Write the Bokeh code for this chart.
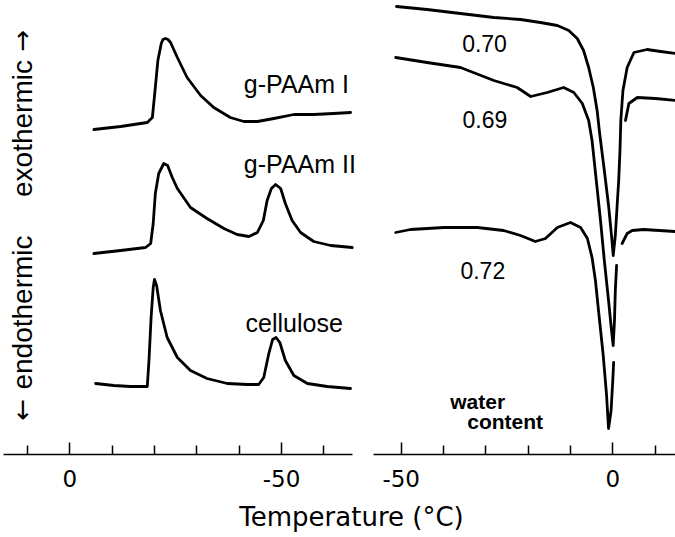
import math
from bokeh.plotting import figure
from bokeh.layouts import column, row
from bokeh.models import Range1d, FixedTicker
from bokeh.core.properties import value
from bokeh.embed import file_html
from bokeh.resources import INLINE

NaN = float("nan")

# ---------------- data (temperature in deg C, heat flow in arbitrary units, exothermic up)
# left panel: cooling curves
paam1_t = [-5.7, -12.0, -18.3, -19.5, -20.2, -20.8, -21.6, -22.0, -22.6, -23.2, -23.8, -25.4,
           -27.7, -30.9, -34.0, -37.9, -41.1, -44.3, -48.2, -52.9, -57.6, -62.3, -66.3]
paam1_q = [32.5, 32.8, 33.2, 33.7, 36.7, 39.4, 41.1, 41.5, 41.6, 41.5, 41.2, 39.7,
           37.7, 35.9, 34.7, 33.7, 33.3, 33.3, 33.6, 34.0, 34.0, 34.1, 34.2]

paam2_t = [-5.7, -12.0, -17.9, -19.1, -19.7, -20.2, -21.0, -22.2, -23.1, -24.2, -25.4, -28.5,
           -32.4, -36.4, -39.5, -42.3, -44.3, -45.7, -46.6, -47.6, -48.6, -49.8, -50.9, -52.5,
           -54.5, -57.6, -61.6, -66.7]
paam2_q = [20.1, 20.4, 20.7, 21.1, 23.1, 26.1, 28.1, 29.1, 28.9, 27.7, 26.6, 24.7,
           23.6, 22.6, 22.0, 21.8, 22.2, 23.4, 25.4, 26.6, 27.0, 26.6, 25.1, 23.4,
           22.2, 21.3, 20.9, 20.7]

cell_t = [-6.1, -10.4, -14.3, -18.3, -18.7, -19.2, -19.7, -20.0, -20.5, -21.4, -23.0, -25.4,
          -28.5, -32.4, -37.2, -41.9, -44.6, -45.8, -47.0, -47.9, -48.7, -49.6, -50.9, -52.9,
          -56.1, -60.8, -66.3]
cell_q = [7.1, 6.9, 6.8, 6.8, 9.4, 13.7, 16.7, 17.5, 16.9, 14.4, 11.7, 9.7,
          8.4, 7.6, 7.1, 7.0, 7.0, 7.7, 10.1, 11.5, 11.7, 11.2, 9.4, 7.9,
          7.1, 6.8, 6.6]

# right panel: heating curves by water content
w070_t = [-51.1, -43.9, -36.0, -28.1, -21.8, -17.1, -13.1, -10.4, -8.4, -6.9, -5.7, -4.6,
          -3.7, -3.1, -2.0, -1.0, -0.3, 0.1, 0.6, 1.1, 1.4, 1.7, 1.9, 2.4, 3.4, 5.0, 8.1,
          11.3, 14.8]
w070_q = [44.8, 44.5, 44.1, 43.7, 43.5, 43.2, 42.9, 42.4, 41.6, 40.4, 38.7, 36.7,
          34.4, 32.1, 28.4, 24.9, 21.9, 19.9, 21.9, 25.4, 27.4, 30.4, 33.4, 36.4, 38.7, 40.2, 40.5,
          40.3, 40.1]

w069_t = [-51.3, -43.9, -36.0, -28.1, -22.6, -19.4, -15.5, -11.6, -9.2, -7.2, -5.7, -4.9,
          -3.9, -2.9, -2.0, -1.0, -0.3, 0.1, 0.4, 0.6, 0.9, NaN, 3.0, 3.8, 5.8, 10.1, 14.8]
w069_q = [39.7, 39.2, 38.7, 37.4, 36.7, 35.8, 36.2, 36.7, 36.2, 35.1, 33.4, 31.4,
          27.4, 23.4, 19.4, 15.4, 12.4, 10.9, 13.4, 16.4, 18.9, NaN, 33.4, 35.1, 35.7, 35.6, 35.4]

w072_t = [-51.3, -47.8, -39.9, -32.0, -25.8, -21.8, -18.3, -15.9, -13.1, -10.0, -7.6, -6.0,
          -4.9, -4.1, -3.3, -2.3, -1.5, -1.0, -0.4, 0.0, 0.2, NaN, 2.2, 3.4, 4.6, 7.3, 14.8]
w072_q = [22.2, 22.5, 22.7, 22.7, 22.4, 21.9, 21.3, 21.6, 22.7, 23.2, 22.7, 21.6,
          19.7, 17.4, 14.1, 10.1, 6.1, 2.6, 4.4, 7.4, 9.2, NaN, 21.1, 22.1, 22.4, 22.5, 22.3]

# labels
left_names = ["g-PAAm I", "g-PAAm II", "cellulose"]
left_name_t = [-41.1, -41.1, -41.5]
left_name_q = [37.1, 29.1, 13.2]

right_names = ["0.70", "0.69", "0.72"]
right_name_t = [-35.6, -35.5, -36.0]
right_name_q = [41.1, 33.5, 18.4]

note_text = ["water", "content"]
note_t = [-38.4, -34.4]
note_q = [5.3, 3.3]

ylab_words = ["exothermic", "endothermic"]
ylab_words_t = [11.2, 11.2]
ylab_words_q = [32.6, 14.2]
ylab_arrows = ["\u2192", "\u2190"]
ylab_arrows_t = [11.2, 11.2]
ylab_arrows_q = [41.4, 4.5]

left_major = [0, -50]
left_major_labels = ["0", "-50"]
left_minor = [10, -10, -20, -30, -40, -60]
right_major = [-50, 0]
right_major_labels = ["-50", "0"]
right_minor = [-40, -30, -20, -10, 10]

xlabel = "Temperature (\u00b0C)"

# ---------------- layout
W_L, W_R = 372, 303
FRAME_H = 454
BORDER_B = 42
TITLE_H = 41
LW = 2.8


def panel(width, xr, bounds, major, labels, minor):
    p = figure(frame_width=width, frame_height=FRAME_H, x_range=xr, y_range=Range1d(0, 45.4),
               output_backend="svg", toolbar_location=None, y_axis_location=None,
               min_border_left=0, min_border_right=0, min_border_top=0,
               min_border_bottom=BORDER_B)
    p.outline_line_color = None
    p.grid.visible = False
    p.background_fill_color = "white"
    p.border_fill_color = "white"
    ax = p.xaxis[0]
    ax.ticker = FixedTicker(ticks=major, minor_ticks=minor)
    ax.major_label_overrides = {m: l for m, l in zip(major, labels)}
    ax.bounds = bounds
    ax.axis_line_color = "black"
    ax.axis_line_width = 1.5
    ax.major_tick_in = 12
    ax.major_tick_out = 0
    ax.major_tick_line_width = 1.5
    ax.major_tick_line_color = "black"
    ax.minor_tick_in = 9
    ax.minor_tick_out = 0
    ax.minor_tick_line_width = 1.5
    ax.minor_tick_line_color = "black"
    ax.major_label_text_font = "DejaVu Sans"
    ax.major_label_text_font_size = "23px"
    ax.major_label_text_color = "black"
    ax.major_label_standoff = 15
    return p


pL = panel(W_L, Range1d(16.36, -71.48), (-66.75, 15.65), left_major, left_major_labels, left_minor)
pR = panel(W_R, Range1d(-56.78, 14.82), (-56.55, 14.82), right_major, right_major_labels, right_minor)

line_kw = dict(line_color="black", line_width=LW, line_join="round", line_cap="round")
pL.line(paam1_t, paam1_q, **line_kw)
pL.line(paam2_t, paam2_q, **line_kw)
pL.line(cell_t, cell_q, **line_kw)
pR.line(w070_t, w070_q, **line_kw)
pR.line(w069_t, w069_q, **line_kw)
pR.line(w072_t, w072_q, **line_kw)

pL.text(x=left_name_t, y=left_name_q, text=left_names, text_font=value("Liberation Sans"),
        text_font_size="25px", text_color="black", text_align="left", text_baseline="alphabetic")
pL.text(x=ylab_words_t, y=ylab_words_q, text=ylab_words, angle=math.pi / 2,
        text_font=value("Liberation Sans"), text_font_size="28px", text_color="black",
        text_align="center", text_baseline="middle")
pL.text(x=ylab_arrows_t, y=ylab_arrows_q, text=ylab_arrows, angle=math.pi / 2,
        text_font=value("DejaVu Sans"), text_font_size="26px", text_color="black",
        text_align="center", text_baseline="middle")
pR.text(x=right_name_t, y=right_name_q, text=right_names, text_font=value("Liberation Sans"),
        text_font_size="23px", text_color="black", text_align="left", text_baseline="alphabetic")
pR.text(x=note_t, y=note_q, text=note_text, text_font=value("Liberation Sans"),
        text_font_size="21px", text_font_style="bold", text_color="black", text_align="left",
        text_baseline="alphabetic")

pT = figure(width=W_L + W_R, height=TITLE_H, x_range=Range1d(0, 1), y_range=Range1d(0, 1),
            output_backend="svg", toolbar_location=None, x_axis_location=None, y_axis_location=None,
            min_border=0)
pT.outline_line_color = None
pT.grid.visible = False
pT.text(x=[0.52], y=[0.5], text=[xlabel], text_font=value("DejaVu Sans"), text_font_size="26px",
        text_color="black", text_align="center", text_baseline="middle")

layout = column(row(pL, pR), pT)
open("out.html", "w").write(file_html(layout, INLINE))
